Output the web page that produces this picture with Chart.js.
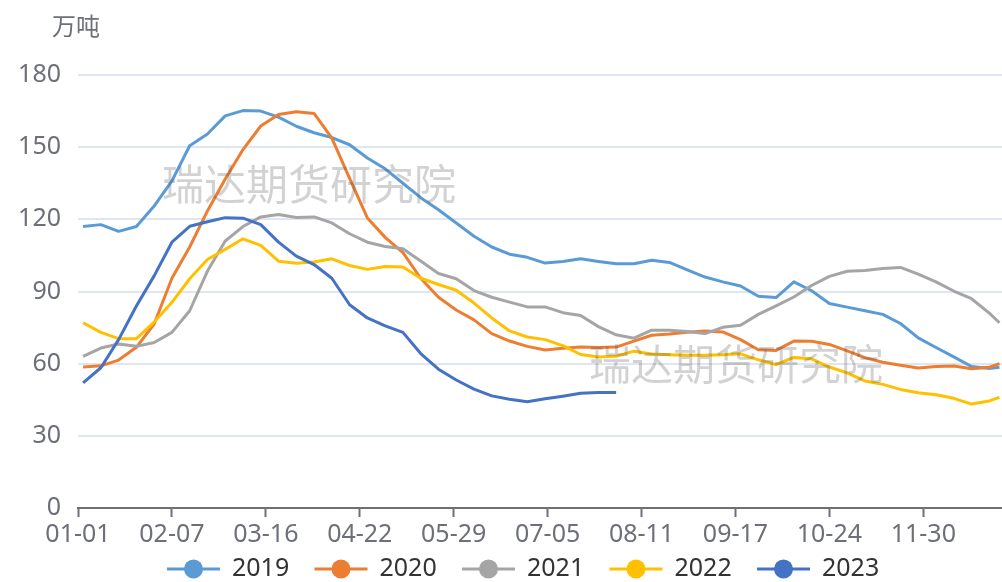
<!DOCTYPE html>
<html>
<head>
    <meta charset="utf-8">
    <title>库存季节性</title>
    <script src="https://cdn.jsdelivr.net/npm/chart.js"></script>
    <style>
        body {
            margin: 0;
            padding: 0;
            background: #ffffff;
        }
        .wrap {
            width: 1002px;
            height: 582px;
            position: relative;
        }
    </style>
</head>
<body>
    <div class="wrap">
        <canvas id="stockChart"></canvas>
    </div>

    <script>
        // weekly dates (MM-DD), shared by every year
        const weeks = ["01-03", "01-10", "01-17", "01-24", "01-31", "02-07", "02-14", "02-21", "02-28",
            "03-07", "03-14", "03-21", "03-28", "04-04", "04-11", "04-18", "04-25", "05-02", "05-09",
            "05-16", "05-23", "05-30", "06-06", "06-13", "06-20", "06-27", "07-04", "07-11", "07-18",
            "07-25", "08-01", "08-08", "08-15", "08-22", "08-29", "09-05", "09-12", "09-19", "09-26",
            "10-03", "10-10", "10-17", "10-24", "10-31", "11-07", "11-14", "11-21", "11-28", "12-05",
            "12-12", "12-19", "12-26", "12-30"];

        const years = ["2019", "2020", "2021", "2022", "2023"];
        const colors = ["#5B9BD5", "#ED7D31", "#A5A5A5", "#FFC000", "#4472C4"];

        const v2019 = [117, 117.8, 115, 117, 125.5, 136, 150.6, 155.5, 163, 165.2, 165, 162.5, 158.7, 156,
            154, 151, 145.5, 141, 135, 129, 124, 118.5, 113, 108.5, 105.5, 104.2, 101.8, 102.5, 103.6,
            102.5, 101.5, 101.5, 103, 102.1, 99, 96, 94, 92.3, 88, 87.5, 94, 90.3, 85, 83.5, 82, 80.5,
            76.7, 70.7, 66.7, 62.8, 58.8, 58, 58.5];
        const v2020 = [58.6, 59.1, 61.5, 66.8, 76.5, 95.5, 108.5, 123.5, 136.8, 149, 158.8, 163.6, 164.7,
            164, 153.8, 137, 120.6, 112.5, 106.2, 95.5, 87.6, 82.3, 78.2, 72.5, 69.4, 67.2, 65.7, 66.4,
            66.9, 66.7, 66.9, 69.4, 71.8, 72.3, 73.1, 73.6, 73.2, 70, 65.8, 65.5, 69.4, 69.3, 68, 65.3,
            62.5, 60.6, 59.3, 58.2, 58.8, 59, 57.9, 58.5, 60];
        const v2021 = [63, 66.5, 68.2, 67.2, 68.8, 73, 82, 98.5, 111, 117, 121, 122, 120.8, 121, 118.5,
            114, 110.5, 108.7, 107.8, 102.7, 97.5, 95.3, 90.4, 87.6, 85.6, 83.6, 83.6, 81.2, 80, 75.4,
            72, 70.6, 73.9, 73.9, 73.4, 72.5, 75.1, 76, 80.5, 84, 87.7, 92.5, 96.3, 98.4, 98.7, 99.6,
            100, 97.2, 94, 90.2, 87, 81, 77];
        const v2022 = [77, 73, 70.4, 70.4, 77.3, 85.5, 95.3, 103.3, 107.5, 111.9, 109.2, 102.6, 101.7,
            102.3, 103.6, 100.8, 99.2, 100.4, 100.2, 95.5, 92.9, 90.5, 85.2, 79, 73.6, 71.1, 70, 67.5,
            63.8, 62.8, 63.1, 65.2, 64, 63.7, 63.5, 63.5, 63.7, 64.1, 61.6, 59.6, 62.6, 62, 58.6, 56.2,
            52.8, 51.4, 49.3, 47.9, 47.1, 45.6, 43.2, 44.5, 46];
        const v2023 = [52, 58.3, 70, 84, 96.5, 110.5, 117.1, 119, 120.7, 120.5, 117.8, 110.5, 104.7,
            101.2, 95.5, 84.5, 79, 75.7, 73, 64.2, 57.7, 53.2, 49.4, 46.6, 45.2, 44.2, 45.4, 46.5, 47.7,
            48, 48];

        const yTicks = [0, 30, 60, 90, 120, 150, 180];
        const xTickStep = 37; // one label every 37 days: 01-01, 02-07, 03-16 ...

        const series = [v2019, v2020, v2021, v2022, v2023];
        const DAY = 86400000;

        function toDay(md) {
            const p = md.split("-");
            return (Date.UTC(2019, +p[0] - 1, +p[1]) - Date.UTC(2019, 0, 1)) / DAY;
        }

        function fromDay(d) {
            const dt = new Date(Date.UTC(2019, 0, 1) + d * DAY);
            const m = String(dt.getUTCMonth() + 1).padStart(2, "0");
            const dd = String(dt.getUTCDate()).padStart(2, "0");
            return m + "-" + dd;
        }

        const datasets = series.map(function (vals, i) {
            return {
                label: years[i],
                data: vals.map(function (v, k) { return { x: toDay(weeks[k]), y: v }; }),
                borderColor: colors[i],
                backgroundColor: colors[i],
                borderWidth: 3,
                pointRadius: 0,
                tension: 0,
                borderJoinStyle: "round",
                order: series.length - i
            };
        });

        const FONT = "'Noto Sans', 'Noto Sans CJK SC', sans-serif";

        // watermark, unit label and the echarts-like legend
        const extras = {
            id: "extras",
            afterDatasetsDraw(chart) {
                const ctx = chart.ctx;
                ctx.save();
                ctx.font = "42px 'Noto Sans CJK SC'";
                ctx.fillStyle = "rgba(90, 90, 90, 0.27)";
                ctx.textAlign = "center";
                ctx.textBaseline = "middle";
                ctx.fillText("瑞达期货研究院", 309, 184);
                ctx.fillText("瑞达期货研究院", 736, 364);
                ctx.restore();
            },
            afterDraw(chart) {
                const ctx = chart.ctx;
                ctx.save();
                ctx.font = "24px " + FONT;
                ctx.fillStyle = "#6E7079";
                ctx.textBaseline = "middle";
                ctx.fillText("万吨", 52, 28);

                ctx.font = "25px " + FONT;
                chart.data.datasets.forEach(function (ds, i) {
                    const x0 = 167 + i * 147.5;
                    const y = 569;
                    ctx.strokeStyle = ds.borderColor;
                    ctx.lineWidth = 3;
                    ctx.beginPath();
                    ctx.moveTo(x0, y);
                    ctx.lineTo(x0 + 53, y);
                    ctx.stroke();
                    ctx.fillStyle = ds.borderColor;
                    ctx.beginPath();
                    ctx.arc(x0 + 26.5, y, 9.5, 0, Math.PI * 2);
                    ctx.fill();
                    ctx.fillStyle = "#333";
                    ctx.fillText(ds.label, x0 + 65, y);
                });
                ctx.restore();
            }
        };

        new Chart(document.getElementById("stockChart"), {
            type: "line",
            data: { datasets: datasets },
            plugins: [extras],
            options: {
                responsive: true,
                maintainAspectRatio: false,
                animation: false,
                layout: { padding: { top: 75, right: 0, bottom: 0, left: 0 } },
                plugins: {
                    legend: { display: false },
                    tooltip: { enabled: false }
                },
                scales: {
                    x: {
                        type: "linear",
                        min: 0,
                        max: 364,
                        afterFit: function (scale) { scale.height = 74; },
                        afterBuildTicks: function (scale) {
                            scale.ticks = scale.ticks.filter(function (t) { return t.value % xTickStep === 0; });
                        },
                        ticks: {
                            stepSize: xTickStep,
                            autoSkip: false,
                            maxRotation: 0,
                            padding: 3,
                            color: "#6E7079",
                            font: { size: 25, family: FONT },
                            callback: function (v) { return fromDay(v); }
                        },
                        grid: {
                            drawOnChartArea: false,
                            drawTicks: true,
                            tickLength: 9,
                            tickWidth: 2,
                            tickColor: "#6E7079"
                        },
                        border: { display: true, color: "#6E7079", width: 2 }
                    },
                    y: {
                        min: 0,
                        max: 180,
                        afterFit: function (scale) { scale.width = 78; },
                        afterBuildTicks: function (scale) {
                            scale.ticks = yTicks.map(function (v) { return { value: v }; });
                        },
                        ticks: {
                            padding: 17,
                            color: "#6E7079",
                            font: { size: 25, family: FONT }
                        },
                        grid: {
                            color: function (c) { return c.tick && c.tick.value === 0 ? "rgba(0,0,0,0)" : "#E0E6F1"; },
                            lineWidth: 2,
                            drawTicks: false
                        },
                        border: { display: false }
                    }
                }
            }
        });
    </script>
</body>
</html>
